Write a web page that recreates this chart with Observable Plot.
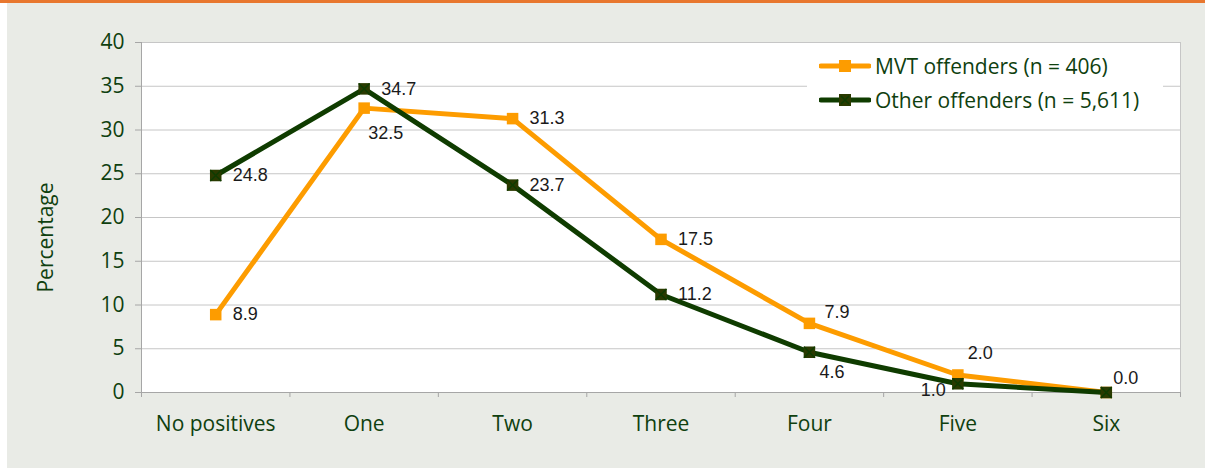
<!DOCTYPE html>
<html>
<head>
<meta charset="utf-8">
<script src="https://cdn.jsdelivr.net/npm/d3@7"></script>
<script src="https://cdn.jsdelivr.net/npm/@observablehq/plot@0.6"></script>
<style>
  html, body { margin: 0; padding: 0; background: #e9ebe6; }
  #wrap { position: relative; width: 1205px; height: 468px; overflow: hidden; }
  #topbar { position: absolute; left: 0; top: 0; width: 1205px; height: 3px; background: #e8772e; }
  #leftstrip { position: absolute; left: 0; top: 3px; width: 7px; height: 465px; background: #ffffff; }
  #legend { position: absolute; left: 807px; top: 46px; width: 356px; height: 78px; background: #ffffff;
            font-family: "Open Sans", sans-serif; font-size: 21px; color: #0f400f; }
  .row { position: absolute; left: 12px; height: 30px; display: flex; align-items: center; white-space: nowrap; }
  .row svg { margin-right: 4px; }
</style>
</head>
<body>
<div id="wrap">
  <div id="chart"></div>
  <div id="topbar"></div>
  <div id="leftstrip"></div>
  <div id="legend"></div>
</div>
<script>
// ---- data ----
const categories = ["No positives", "One", "Two", "Three", "Four", "Five", "Six"];
const mvtValues = [8.9, 32.5, 31.3, 17.5, 7.9, 2.0, 0.0];
const otherValues = [24.8, 34.7, 23.7, 11.2, 4.6, 1.0, 0.0];
const yTicks = [0, 5, 10, 15, 20, 25, 30, 35, 40];
const seriesNames = ["MVT offenders (n = 406)", "Other offenders (n = 5,611)"];
const mvtLabelPlacement = ["right", "below", "right", "right", "upRight", "above", "zero"];
const otherLabelPlacement = ["right", "right", "right", "right", "belowRight", "left", "none"];

// ---- styles ----
const placements = {
  right:      {dx: 17, dy: 0,   anchor: "start"},
  below:      {dx: 4,  dy: 25,  anchor: "start"},
  upRight:    {dx: 15, dy: -11, anchor: "start"},
  above:      {dx: 10, dy: -22, anchor: "start"},
  zero:       {dx: 7,  dy: -14, anchor: "start"},
  belowRight: {dx: 10, dy: 20,  anchor: "start"},
  left:       {dx: -12, dy: 6,  anchor: "end"}
};
const ORANGE = "#fd9c00";
const GREEN = "#0f3c00";
const MARK_GREEN = "#2a3a00";
const TEXT_GREEN = "#0f400f";
const GRID = "#c6c6c6";
const AXIS = "#a6a6a6";

const rows = [];
categories.forEach((c, i) => {
  rows.push({series: seriesNames[0], i, value: mvtValues[i], place: mvtLabelPlacement[i]});
});
categories.forEach((c, i) => {
  rows.push({series: seriesNames[1], i, value: otherValues[i], place: otherLabelPlacement[i]});
});
const mvt = rows.filter(d => d.series === seriesNames[0]);
const other = rows.filter(d => d.series === seriesNames[1]);

const labelMarks = Object.entries(placements).map(([key, p]) =>
  Plot.text(rows.filter(d => d.place === key), {
    x: "i", y: "value", text: d => d.value.toFixed(1),
    dx: p.dx, dy: p.dy, textAnchor: p.anchor, lineAnchor: "middle",
    fontFamily: "'Liberation Sans', Arial, sans-serif", fontSize: 18, fill: "#1a1a1a"
  })
);

const boundaries = d3.range(categories.length + 1).map(k => k - 0.5);

const chart = Plot.plot({
  width: 1205,
  height: 468,
  marginLeft: 141,
  marginRight: 25,
  marginTop: 42,
  marginBottom: 76,
  style: {background: "transparent", overflow: "visible"},
  x: {type: "linear", domain: [-0.5, categories.length - 0.5]},
  y: {domain: [0, 40]},
  marks: [
    Plot.frame({fill: "white", stroke: null}),
    Plot.ruleY(yTicks.filter(v => v > 0), {stroke: GRID, strokeWidth: 1}),
    Plot.ruleX([categories.length - 0.5], {stroke: GRID}),
    Plot.ruleX([-0.5], {stroke: AXIS}),
    Plot.ruleY([0], {stroke: AXIS}),
    Plot.axisY({ticks: yTicks, tickSize: 6, tickPadding: 11, stroke: AXIS, color: TEXT_GREEN,
      fontSize: 21, fontFamily: "'Open Sans', sans-serif", label: null}),
    Plot.axisX({ticks: boundaries, tickSize: 5, tickFormat: () => "", stroke: AXIS, label: null}),
    Plot.axisX({ticks: d3.range(categories.length), tickSize: 0, tickPadding: 24,
      tickFormat: i => categories[i], color: TEXT_GREEN, fontSize: 21,
      fontFamily: "'Open Sans', sans-serif", label: null}),
    Plot.text(["Percentage"], {frameAnchor: "left", textAnchor: "middle", dx: -95, dy: 20, rotate: -90,
      fill: TEXT_GREEN, fontSize: 21, fontFamily: "'Open Sans', sans-serif"}),
    Plot.line(mvt, {x: "i", y: "value", stroke: ORANGE, strokeWidth: 5}),
    Plot.dot(mvt, {x: "i", y: "value", symbol: "square", r: 6.5, fill: ORANGE, stroke: null}),
    Plot.line(other, {x: "i", y: "value", stroke: GREEN, strokeWidth: 5}),
    Plot.dot(other, {x: "i", y: "value", symbol: "square", r: 6.5, fill: MARK_GREEN, stroke: null}),
    Plot.dot(other, {x: "i", y: "value", symbol: "times", r: 5, stroke: GREEN, strokeWidth: 1.5}),
    ...labelMarks
  ]
});
document.getElementById("chart").appendChild(chart);

// legend
const legend = document.getElementById("legend");
const legendStyles = [
  {stroke: ORANGE, fill: ORANGE, cross: false},
  {stroke: GREEN, fill: MARK_GREEN, cross: true}
];
seriesNames.forEach((name, k) => {
  const s = legendStyles[k];
  const row = document.createElement("div");
  row.className = "row";
  row.style.top = (k === 0 ? 5 : 39) + "px";
  row.innerHTML =
    `<svg width="52" height="14"><line x1="2" x2="50" y1="7" y2="7" stroke="${s.stroke}" stroke-width="5" stroke-linecap="round"/>` +
    `<rect x="20" y="1" width="12" height="12" fill="${s.fill}"/>` +
    (s.cross ? `<path d="M22,3L30,11M30,3L22,11" stroke="${GREEN}" stroke-width="1.5"/>` : "") +
    `</svg><span>${name}</span>`;
  legend.appendChild(row);
});
</script>
</body>
</html>
